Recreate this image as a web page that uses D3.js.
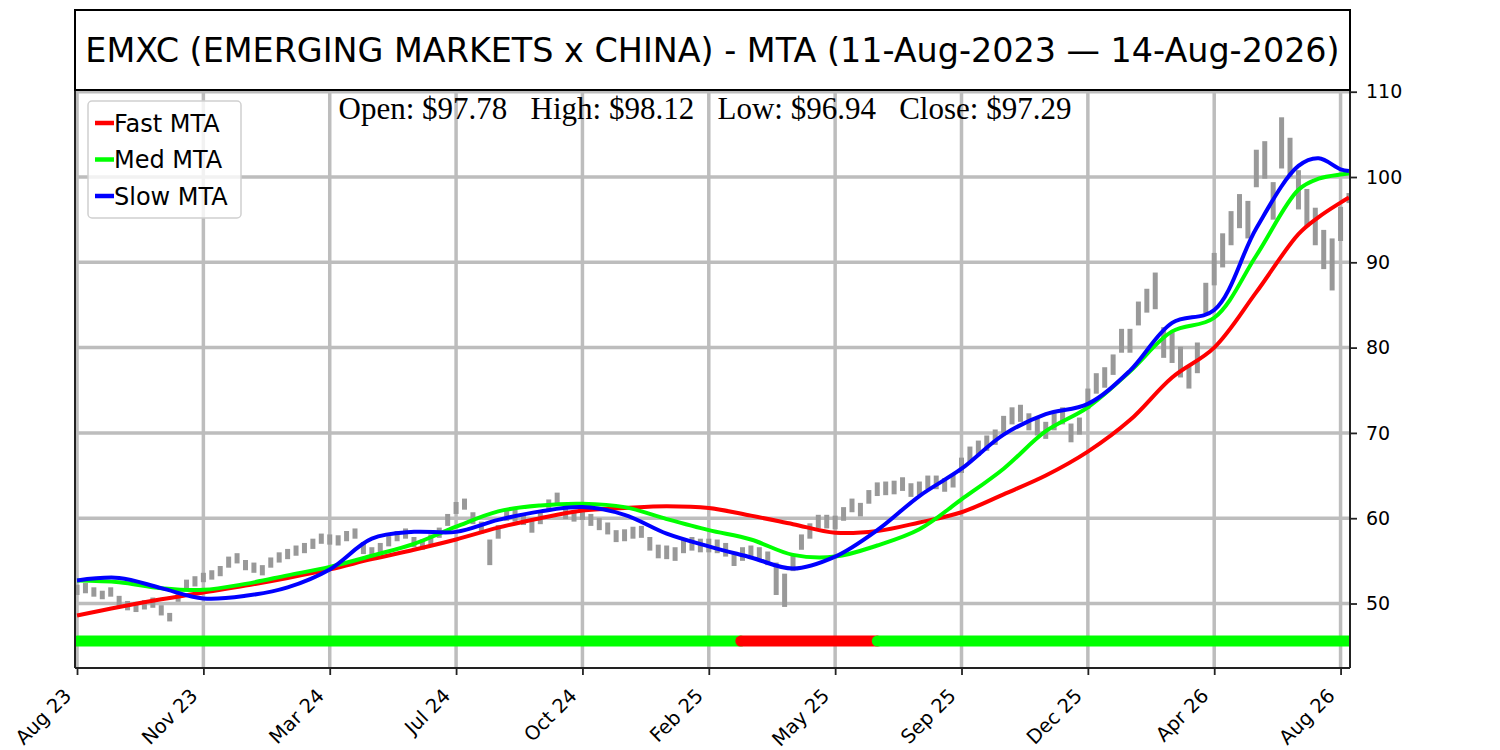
<!DOCTYPE html>
<html>
<head>
<meta charset="utf-8">
<title>EMXC MTA</title>
<script src="https://d3js.org/d3.v7.min.js"></script>
<style>
  body { margin: 0; background: #fff; }
</style>
</head>
<body>
<svg width="1500" height="750"></svg>
<script>
// x axis: trading-day index, labelled every 75 bars
var tickIdx = [0, 75, 150, 225, 300, 375, 450, 525, 600, 675, 750];
var tickLabels = ["Aug 23", "Nov 23", "Mar 24", "Jul 24", "Oct 24", "Feb 25",
                  "May 25", "Sep 25", "Dec 25", "Apr 26", "Aug 26"];
var yTicks = [50, 60, 70, 80, 90, 100, 110];

// weekly price range (one entry every 5 bars)
var priceStep = 5;
var priceLo = [51.0,51.2,50.8,50.5,50.8,49.7,49.2,49.0,49.3,49.5,48.6,47.9,50.2,51.6,52.0,52.5,52.8,53.2,54.2,54.7,
  53.9,53.6,53.3,54.2,54.8,55.2,55.6,55.9,56.4,57.0,56.9,56.8,57.3,57.6,55.8,55.4,55.9,56.7,57.3,57.6,
  56.6,56.3,56.9,57.7,59.1,60.5,61.0,59.3,58.2,54.5,57.6,59.7,59.6,59.2,58.3,59.3,60.8,61.5,59.9,59.6,
  59.8,59.1,58.6,58.1,57.2,57.3,57.6,57.7,56.2,55.3,55.2,55.0,55.9,56.2,56.0,56.0,55.9,55.5,54.4,55.0,
  55.2,55.0,54.5,51.0,49.6,53.8,56.3,57.6,58.8,58.8,58.7,59.7,60.7,60.2,61.7,62.6,62.7,62.8,63.2,62.5,
  62.7,63.4,63.4,63.1,63.6,65.3,66.6,67.3,67.9,68.6,70.0,71.0,71.3,70.3,69.7,69.3,70.3,71.0,68.9,69.8,
  72.8,74.6,75.3,76.8,79.4,79.4,82.6,84.1,84.5,78.8,78.2,76.5,75.2,77.0,84.0,87.3,89.4,92.0,94.0,92.8,
  98.8,99.8,95.0,101.0,100.0,96.2,94.2,92.0,89.2,86.7,92.5,96.94];
var priceHi = [52.2,52.4,51.9,51.5,51.9,50.9,50.3,50.2,50.4,50.7,49.8,48.9,51.6,52.8,53.2,53.6,53.9,54.4,55.5,55.9,
  55.1,54.8,54.5,55.4,56.0,56.4,56.8,57.1,57.6,58.2,58.1,58.0,58.5,58.8,57.2,56.6,57.1,57.9,58.5,58.8,
  57.8,57.5,58.1,58.9,60.5,61.9,62.3,60.7,59.6,57.5,59.2,61.1,61.0,60.6,59.7,60.7,62.2,63.0,61.3,61.0,
  61.2,60.5,60.0,59.5,58.6,58.7,59.0,59.1,57.8,56.9,56.8,56.6,57.5,57.8,57.6,57.6,57.5,57.1,56.0,56.6,
  56.8,56.6,56.1,54.8,53.5,55.8,58.1,59.4,60.4,60.4,60.3,61.3,62.3,61.8,63.3,64.2,64.3,64.4,64.8,64.1,
  64.3,65.0,65.0,64.7,65.2,67.1,68.4,69.1,69.7,70.4,72.0,73.0,73.3,72.3,71.7,71.3,72.3,73.0,71.1,71.8,
  75.2,77.0,77.7,79.2,82.2,82.2,85.4,86.9,88.8,82.4,81.8,80.1,77.8,80.6,87.6,91.1,93.4,96.0,98.0,97.2,
  103.2,104.2,99.4,107.0,104.6,100.8,98.6,96.4,93.8,92.8,96.5,98.12];

// last bar
var lastOpen = 97.78, lastHigh = 98.12, lastLow = 96.94, lastClose = 97.29;

// moving trend averages, sampled at these bars
var maIdx = [0,25,50,75,100,125,150,175,200,225,250,275,300,325,350,375,400,425,450,475,
             500,525,550,575,600,625,650,675,700,725,737,750,755];
var fastMTA = [48.6,49.6,50.5,51.3,52.1,53.0,54.0,55.2,56.3,57.5,58.9,60.0,60.9,61.2,61.4,61.2,60.3,59.3,58.3,58.5,
               59.5,60.7,62.8,65.0,67.8,71.5,76.5,80.0,86.5,93.3,95.3,97.0,97.6];
var medMTA  = [52.7,52.5,51.8,51.6,52.3,53.3,54.3,55.6,57.0,59.0,60.8,61.5,61.7,61.3,59.9,58.6,57.5,55.7,55.5,56.8,
               58.7,62.2,65.8,70.2,73.0,77.2,81.9,83.5,90.8,98.5,99.8,100.3,100.4];
var slowMTA = [52.7,53.0,51.8,50.6,50.9,51.9,54.0,57.6,58.4,58.4,59.8,60.8,61.3,60.4,58.2,56.7,55.4,54.1,55.5,58.6,
               62.6,65.8,69.8,72.2,73.4,77.3,82.9,84.4,94.0,101.3,102.2,100.9,100.7];

// trend signal strip
var sigFrom  = [0, 394, 475];
var sigTo    = [394, 475, 755];
var sigColor = ["#00ff00", "#ff0000", "#00ff00"];
var sigLevel = 45.6;

var svg = d3.select("svg");
var pLeft = 75, pRight = 1350, pTop = 90, pBottom = 668;

var x = d3.scaleLinear().domain([-1.2, 755.6]).range([pLeft, pRight]);
var y = d3.scaleLinear().domain([42.44, 110.2]).range([pBottom, pTop]);

svg.append("defs").append("clipPath").attr("id", "plotclip")
  .append("rect").attr("x", pLeft).attr("y", pTop)
  .attr("width", pRight - pLeft).attr("height", pBottom - pTop);

//grid
var grid = svg.append("g").attr("clip-path", "url(#plotclip)");
grid.selectAll(".vg").data(tickIdx).enter().append("line")
  .attr("x1", function(d) { return x(d); }).attr("x2", function(d) { return x(d); })
  .attr("y1", pTop).attr("y2", pBottom)
  .attr("stroke", "#bdbdbd").attr("stroke-width", 3.5);
grid.selectAll(".hg").data(yTicks).enter().append("line")
  .attr("x1", pLeft).attr("x2", pRight)
  .attr("y1", function(d) { return y(d); }).attr("y2", function(d) { return y(d); })
  .attr("stroke", "#bdbdbd").attr("stroke-width", 3.5);

var plot = svg.append("g").attr("clip-path", "url(#plotclip)");

//price bars
plot.selectAll(".bar").data(priceLo).enter().append("line")
  .attr("x1", function(d, i) { return x(i * priceStep); })
  .attr("x2", function(d, i) { return x(i * priceStep); })
  .attr("y1", function(d) { return y(d); })
  .attr("y2", function(d, i) { return y(priceHi[i]); })
  .attr("stroke", "#999999").attr("stroke-width", 5);

//signal strip
plot.selectAll(".sig").data(sigFrom).enter().append("line")
  .attr("x1", function(d) { return x(d); })
  .attr("x2", function(d, i) { return x(sigTo[i]); })
  .attr("y1", y(sigLevel)).attr("y2", y(sigLevel))
  .attr("stroke", function(d, i) { return sigColor[i]; })
  .attr("stroke-width", 11).attr("stroke-linecap", "round");

//MTA lines
var line = d3.line()
  .x(function(d, i) { return x(maIdx[i]); })
  .y(function(d) { return y(d); })
  .curve(d3.curveCatmullRom.alpha(0.5));
var series = [[fastMTA, "#ff0000"], [medMTA, "#00ff00"], [slowMTA, "#0000ff"]];
series.forEach(function(s) {
  plot.append("path").attr("d", line(s[0]))
    .attr("fill", "none").attr("stroke", s[1]).attr("stroke-width", 4);
});

//spines
svg.append("line").attr("x1", pLeft).attr("x2", pLeft).attr("y1", pTop).attr("y2", pBottom)
  .attr("stroke", "#222").attr("stroke-width", 2);
svg.append("line").attr("x1", pRight).attr("x2", pRight).attr("y1", pTop).attr("y2", pBottom)
  .attr("stroke", "#222").attr("stroke-width", 2);

//x axis
var xAxis = svg.append("g")
  .attr("transform", "translate(0," + pBottom + ")")
  .call(d3.axisBottom(x).tickValues(tickIdx).tickSize(7)
    .tickFormat(function(d, i) { return tickLabels[i]; }));
xAxis.select(".domain").attr("stroke", "#222").attr("stroke-width", 2)
  .attr("d", "M" + pLeft + ",0H" + pRight);
xAxis.selectAll(".tick line").attr("stroke", "#222").attr("stroke-width", 1.8);
xAxis.selectAll("text")
  .style("font-size", "19.5px").style("font-family", "DejaVu Sans").attr("fill", "#000")
  .attr("text-anchor", "end")
  .attr("x", 0).attr("y", 0).attr("dy", 0)
  .attr("transform", "translate(-5,29) rotate(-45)");

//y axis on the right
var yAxis = svg.append("g")
  .attr("transform", "translate(" + pRight + ",0)")
  .call(d3.axisRight(y).tickValues(yTicks).tickSize(7).tickPadding(9));
yAxis.select(".domain").remove();
yAxis.selectAll(".tick line").attr("stroke", "#222").attr("stroke-width", 1.8);
yAxis.selectAll("text").style("font-size", "19px").style("font-family", "DejaVu Sans").attr("fill", "#000");

//title box
svg.append("rect").attr("x", pLeft).attr("y", 10).attr("width", pRight - pLeft).attr("height", pTop - 10)
  .attr("fill", "#fff").attr("stroke", "#000").attr("stroke-width", 2);
svg.append("text")
  .attr("x", (pLeft + pRight) / 2).attr("y", 62)
  .attr("text-anchor", "middle")
  .style("font-size", "33.4px").style("font-family", "DejaVu Sans")
  .text("EMXC (EMERGING MARKETS x CHINA) - MTA (11-Aug-2023 \u2014 14-Aug-2026)");

//OHLC line
svg.append("text")
  .attr("x", 705).attr("y", 119)
  .attr("text-anchor", "middle")
  .style("font-size", "31px").style("font-family", "Liberation Serif, serif")
  .style("white-space", "pre")
  .text("Open: $" + lastOpen.toFixed(2) + "   High: $" + lastHigh.toFixed(2) +
        "   Low: $" + lastLow.toFixed(2) + "   Close: $" + lastClose.toFixed(2));

//legend
var legend = svg.append("g");
legend.append("rect").attr("x", 88).attr("y", 101).attr("width", 153).attr("height", 117)
  .attr("rx", 4).attr("fill", "#fff").attr("fill-opacity", 0.8)
  .attr("stroke", "#d0d0d0").attr("stroke-width", 1.5);
var names = ["Fast MTA", "Med MTA", "Slow MTA"];
names.forEach(function(n, i) {
  var ly = 123 + i * 36.5;
  legend.append("line").attr("x1", 95).attr("x2", 114).attr("y1", ly).attr("y2", ly)
    .attr("stroke", series[i][1]).attr("stroke-width", 4.5);
  legend.append("text").attr("x", 114).attr("y", ly + 8.5)
    .style("font-size", "24px").style("font-family", "DejaVu Sans").text(n);
});
</script>
</body>
</html>
